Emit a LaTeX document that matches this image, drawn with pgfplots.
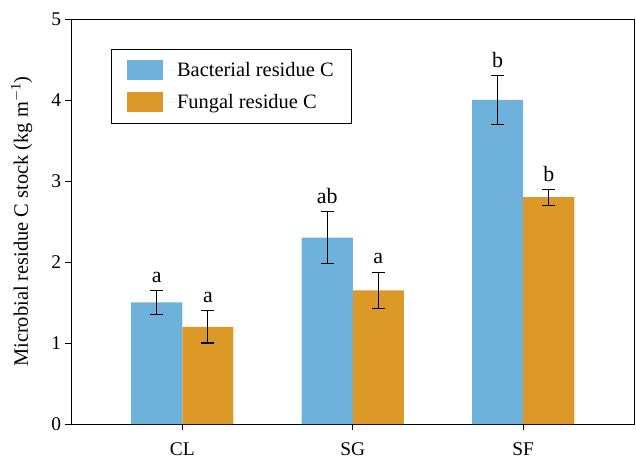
\documentclass[border=0pt]{standalone}
\usepackage{pgfplots}
\pgfplotsset{compat=1.18}
\usepackage{fontspec}
\setmainfont{Liberation Serif}
\definecolor{bact}{RGB}{110,178,220}
\definecolor{fung}{RGB}{220,153,40}
\begin{document}
\begin{tikzpicture}
\begin{axis}[
  name=ax,
  scale only axis,
  width=562.5bp, height=405bp,
  xmin=0.35, xmax=3.65,
  ymin=0, ymax=5,
  xtick={1,2,3},
  xticklabels={CL,SG,SF},
  ytick={0,1,2,3,4,5},
  tick pos=left,
  tick align=outside,
  major tick length=6bp,
  axis line style={line width=0.8bp},
  every tick/.style={black, line width=0.8bp},
  ticklabel style={font=\fontsize{19.5}{22}\selectfont},
  /pgf/number format/assume math mode=true,
  yticklabel style={xshift=-1bp},
  xticklabel style={yshift=-9bp},
  ylabel={Microbial residue C stock (kg m\textsuperscript{$-$1})},
  every axis y label/.style={at={(rel axis cs:0,0.5)}, rotate=90, anchor=center, yshift=50bp,
    font=\fontsize{20.5}{24}\selectfont},
  ybar=0pt,
  bar width=0.3,
  legend style={
    at={(0.0697,0.926)}, anchor=north west,
    draw=black, line width=0.8bp,
    font=\fontsize{20.5}{24}\selectfont,
    inner xsep=16bp, inner ysep=11bp,
    row sep=12bp,
    legend cell align=left,
  },
  legend image code/.code={\fill[#1] (0bp,-10bp) rectangle (36bp,10bp); \path (0bp,0bp) -- (48bp,0bp);},
  error bars/error bar style={line width=1.1bp, black},
  error bars/error mark options={rotate=90, mark size=6.5bp, line width=1.1bp, black},
  clip=false,
]
\addplot[fill=bact, draw=none,
  error bars/.cd, y dir=both, y explicit]
  coordinates {(1,1.5) +- (0,0.15) (2,2.3) +- (0,0.32) (3,4.0) +- (0,0.30)};
\addlegendentry{Bacterial residue C}
\addplot[fill=fung, draw=none,
  error bars/.cd, y dir=both, y explicit]
  coordinates {(1,1.2) +- (0,0.2) (2,1.65) +- (0,0.22) (3,2.8) +- (0,0.10)};
\addlegendentry{Fungal residue C}
% significance letters above error bar tops
\begin{scope}[every node/.style={font=\fontsize{22}{24}\selectfont, black, anchor=base, yshift=8bp, inner sep=0pt}]
\node at (axis cs:0.85,1.65) {a};
\node at (axis cs:1.85,2.62) {ab};
\node at (axis cs:2.85,4.30) {b};
\node at (axis cs:1.15,1.40) {a};
\node at (axis cs:2.15,1.88) {a};
\node at (axis cs:3.15,2.90) {b};
\end{scope}
\coordinate (sw) at (rel axis cs:0,0);
\coordinate (ne) at (rel axis cs:1,1);
\end{axis}
\path (sw) ++(-71.5bp,-36bp) coordinate (bba);
\path (ne) ++(2bp,19bp) coordinate (bbb);
\pgfresetboundingbox
\path (bba) rectangle (bbb);
\end{tikzpicture}
\end{document}
